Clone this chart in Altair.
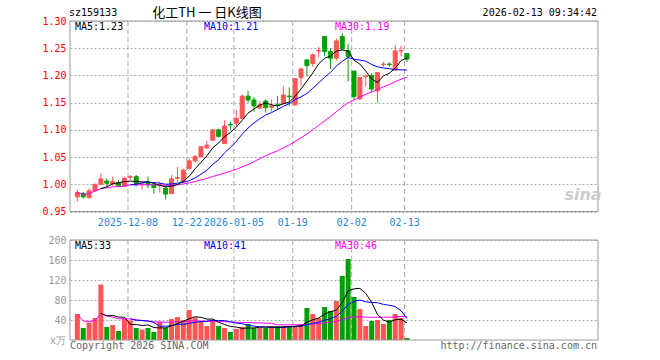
import altair as alt
import pandas as pd

# ---------------- data ----------------
opens = [0.977, 0.983, 0.976, 0.988, 1.000, 1.006, 1.0005, 1.003, 0.996, 1.013,
         1.014, 1.000, 1.002, 0.999, 0.998, 0.9925, 0.983, 1.011, 1.005, 1.029,
         1.043, 1.051, 1.067, 1.081, 1.100, 1.075, 1.110, 1.112, 1.121, 1.162,
         1.155, 1.140, 1.153, 1.1415, 1.146, 1.148, 1.162, 1.146, 1.196, 1.2285,
         1.222, 1.245, 1.2715, 1.244, 1.2316, 1.2715, 1.2457, 1.208, 1.157, 1.198,
         1.200, 1.1715, 1.220, 1.221, 1.210, 1.245, 1.240]
closes = [0.985, 0.977, 0.988, 1.000, 1.010, 1.002, 1.005, 0.997, 1.011, 1.014,
          0.999, 1.001, 0.999, 0.994, 0.999, 0.982, 1.010, 1.012, 1.026, 1.043,
          1.051, 1.069, 1.072, 1.100, 1.088, 1.107, 1.109, 1.121, 1.162, 1.155,
          1.144, 1.146, 1.141, 1.144, 1.145, 1.164, 1.161, 1.194, 1.212, 1.218,
          1.238, 1.246, 1.244, 1.2316, 1.2635, 1.249, 1.2347, 1.161, 1.196, 1.199,
          1.175, 1.205, 1.221, 1.220, 1.245, 1.246, 1.230]
highs = [0.990, 0.986, 0.9925, 1.001, 1.020, 1.011, 1.014, 1.008, 1.014, 1.017,
         1.017, 1.005, 1.014, 0.999, 1.005, 0.997, 1.017, 1.032, 1.029, 1.048,
         1.054, 1.070, 1.080, 1.101, 1.102, 1.117, 1.115, 1.137, 1.165, 1.1715,
         1.160, 1.153, 1.156, 1.156, 1.162, 1.180, 1.178, 1.194, 1.213, 1.230,
         1.240, 1.253, 1.2715, 1.250, 1.268, 1.2776, 1.258, 1.208, 1.196, 1.202,
         1.204, 1.205, 1.225, 1.224, 1.256, 1.255, 1.240]
lows = [0.968, 0.974, 0.973, 0.987, 0.999, 0.996, 0.997, 0.996, 0.996, 1.008,
        0.996, 0.990, 0.993, 0.983, 0.985, 0.972, 0.982, 1.005, 1.002, 1.0275,
        1.040, 1.049, 1.064, 1.080, 1.086, 1.074, 1.100, 1.106, 1.121, 1.150,
        1.1335, 1.138, 1.1317, 1.1335, 1.137, 1.148, 1.144, 1.144, 1.180, 1.198,
        1.216, 1.233, 1.236, 1.212, 1.227, 1.2457, 1.189, 1.155, 1.155, 1.180,
        1.1685, 1.150, 1.216, 1.216, 1.209, 1.235, 1.2243]
volumes = [52, 24, 35, 44, 111, 26, 30, 18, 43, 39,
           24, 21, 24, 16, 36, 24, 42, 46, 40, 60,
           45, 36, 28, 40, 28, 24, 16, 22, 26, 32,
           24, 24, 24, 28, 28, 28, 26, 28, 32, 64,
           52, 44, 66, 58, 78, 128, 162, 86, 62, 28,
           38, 40, 32, 40, 52, 44, 4]

date_index = [9, 19, 27, 37, 47, 56]
date_labels = ["2025-12-08", "12-22", "2026-01-05", "01-19", "02-02", "02-13"]
price_ticks = [0.95, 1.00, 1.05, 1.10, 1.15, 1.20, 1.25, 1.30]
volume_ticks = [40, 80, 120, 160, 200]
price_ma_labels = ["MA5:1.23", "MA10:1.21", "MA30:1.19"]
volume_ma_labels = ["MA5:33", "MA10:41", "MA30:46"]
title_code = "sz159133"
title_main = "化工TH 一 日K线图"
title_time = "2026-02-13 09:34:42"
footer_left = "Copyright 2026 SINA.COM"
footer_right = "http://finance.sina.com.cn"
volume_unit = "x万"

# ---------------- styling ----------------
RED = "#ff5555"
GREEN = "#00a000"
MA_COLORS = ["#000000", "#0000ff", "#ff00ff"]
DATE_BLUE = "#1e88d8"
GRID = "#aaaaaa"
BORDER = "#999999"
MONO = "DejaVu Sans Mono"

W = 528          # plot width
PH = 190.5       # price panel height
VT = 219         # volume panel top
VB = 319         # volume panel bottom (total plot height)

df = pd.DataFrame({
    "i": list(range(len(closes))),
    "open": opens, "high": highs, "low": lows, "close": closes, "vol": volumes,
})
dates_df = pd.DataFrame({"idx": date_index, "label": date_labels})

xs = alt.Scale(domain=[0, 88], nice=False, zero=False)
X = alt.X("xc:Q", scale=xs, axis=None)

ps = alt.Scale(domain=[0.95, 1.30], range=[PH, 0], nice=False, zero=False)
vs = alt.Scale(domain=[0, 200], range=[VB, VT], nice=False, zero=False)

paxis = alt.Axis(values=price_ticks, format=".2f", labelColor="#ff0000", orient="left",
                 grid=True, gridDash=[2, 2], gridColor=GRID, gridWidth=1,
                 domain=False, ticks=False, labelPadding=4, title=None,
                 labelFont=MONO, labelFontSize=10)
vaxis = alt.Axis(values=volume_ticks, format="d", labelColor="#999999", orient="left",
                 grid=True, gridDash=[2, 2], gridColor=GRID, gridWidth=1,
                 domain=False, ticks=False, labelPadding=4, title=None,
                 labelFont=MONO, labelFontSize=10)

dir_scale = alt.Scale(domain=["up", "down"], range=[RED, GREEN])
color = alt.Color("dir:N", scale=dir_scale, legend=None)
stroke = alt.Stroke("dir:N", scale=dir_scale, legend=None)

base = alt.Chart(df).transform_calculate(
    xc="datum.i + 0.4",
    dir="datum.close >= datum.open ? 'up' : 'down'",
)


def PY(f):
    return alt.Y(f + ":Q", scale=ps, axis=paxis)


def VY(f):
    return alt.Y(f + ":Q", scale=vs, axis=vaxis)


def ma_layer(field, n, start, col, yfn):
    return (base.transform_window(m=f"mean({field})", frame=[-(n - 1), 0],
                                  sort=[alt.SortField("i")])
            .transform_filter(f"datum.i >= {start}")
            .mark_line(color=col, strokeWidth=1)
            .encode(x=X, y=yfn("m")))


wick = base.mark_rule(strokeWidth=1).encode(x=X, y=PY("low"), y2=alt.Y2("high"), color=color)
body = base.mark_bar(size=4, strokeWidth=1).encode(
    x=X, y=PY("open"), y2=alt.Y2("close"), color=color, stroke=stroke)
price = alt.layer(
    wick, body,
    ma_layer("close", 30, 0, MA_COLORS[2], PY),
    ma_layer("close", 10, 9, MA_COLORS[1], PY),
    ma_layer("close", 5, 4, MA_COLORS[0], PY),
)

vbars = base.mark_bar(size=5).encode(x=X, y=VY("vol"), color=color)
volume = alt.layer(
    vbars,
    ma_layer("vol", 30, 0, MA_COLORS[2], VY),
    ma_layer("vol", 10, 9, MA_COLORS[1], VY),
    ma_layer("vol", 5, 4, MA_COLORS[0], VY),
)

XD = alt.X("idx:Q", scale=xs, axis=None)
vgrid_top = alt.Chart(dates_df).mark_rule(color=GRID, strokeWidth=1, strokeDash=[5, 3]).encode(
    x=XD, y=alt.value(0), y2=alt.value(PH))
vgrid_bot = alt.Chart(dates_df).mark_rule(color=GRID, strokeWidth=1, strokeDash=[5, 3]).encode(
    x=XD, y=alt.value(VT), y2=alt.value(VB))
date_text = alt.Chart(dates_df).mark_text(font=MONO, fontSize=10, color=DATE_BLUE,
                                          baseline="middle", align="center").encode(
    x=XD, y=alt.value(202), text="label:N")

one = pd.DataFrame({"a": [0]})
border_top = alt.Chart(one).mark_rect(fillOpacity=0, stroke=BORDER, strokeWidth=1).encode(
    x=alt.value(0), x2=alt.value(W), y=alt.value(0), y2=alt.value(PH))
border_bot = alt.Chart(one).mark_rect(fillOpacity=0, stroke=BORDER, strokeWidth=1).encode(
    x=alt.value(0), x2=alt.value(W), y=alt.value(VT), y2=alt.value(VB))


def txt(s, x, y, col, align="left", size=10, font=MONO, **kw):
    return alt.Chart(pd.DataFrame({"t": [s]})).mark_text(
        align=align, baseline="middle", font=font, fontSize=size, color=col, **kw
    ).encode(text="t:N", x=alt.value(x), y=alt.value(y))


texts = [
    txt(title_code, -1, -8, "#000000"),
    txt(title_main, 137, -8, "#000000", align="center", size=13, font="Noto Sans CJK SC"),
    txt(title_time, 527, -8, "#000000", align="right"),
    txt(price_ma_labels[0], 5, 5.5, MA_COLORS[0]),
    txt(price_ma_labels[1], 134, 5.5, MA_COLORS[1]),
    txt(price_ma_labels[2], 265, 5.5, MA_COLORS[2]),
    txt(volume_ma_labels[0], 5, 225, MA_COLORS[0]),
    txt(volume_ma_labels[1], 134, 225, MA_COLORS[1]),
    txt(volume_ma_labels[2], 265, 225, MA_COLORS[2]),
    txt(footer_left, 0, 325, "#666666"),
    txt(footer_right, 527, 325, "#666666", align="right"),
    txt(volume_unit, -4, 320, "#999999", align="right"),
    txt("sina", 513, 174, "#cccccc", align="center", size=16, font="DejaVu Sans",
        fontStyle="italic", fontWeight="bold"),
]

chart = alt.layer(
    vgrid_top, vgrid_bot, price, volume, border_top, border_bot, date_text, *texts
).resolve_scale(y="independent").properties(
    width=W, height=VB,
    autosize=alt.AutoSizeParams(type="none"),
    padding={"left": 70, "top": 21, "right": 62, "bottom": 20},
).configure_view(strokeWidth=0)

chart.save("out.html", embed_options={"renderer": "svg", "actions": False})
